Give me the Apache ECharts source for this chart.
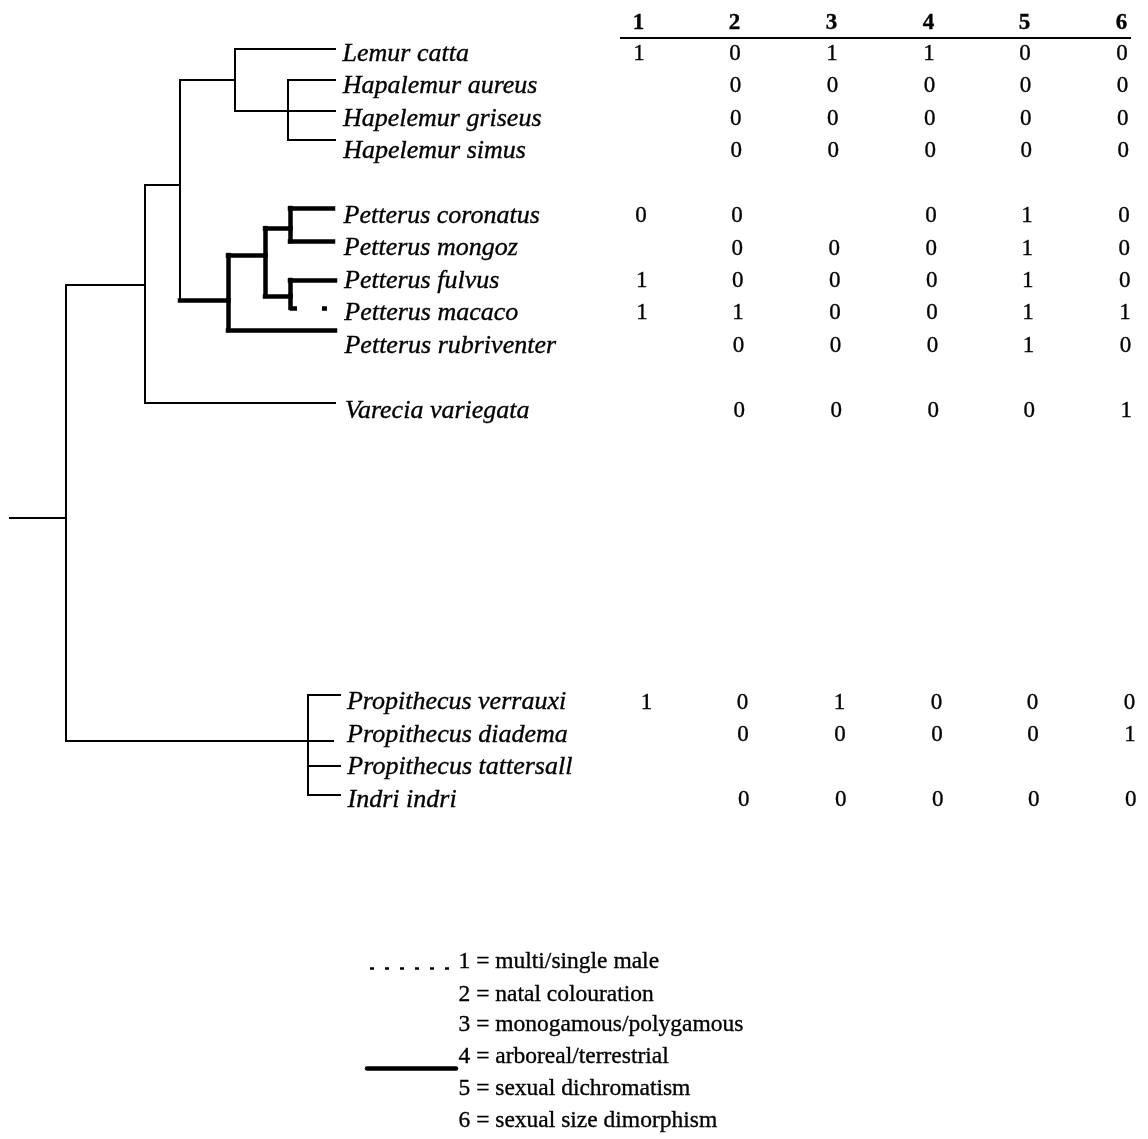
<!DOCTYPE html>
<html>
<head>
<meta charset="utf-8">
<script src="https://cdn.jsdelivr.net/npm/echarts@6/dist/echarts.min.js"></script>
<style>
html,body{margin:0;padding:0;background:#fff;}
#chart{width:1148px;height:1139px;}
</style>
</head>
<body>
<div id="chart"></div>
<script>
// ---------- DATA ----------
const taxa = ['Lemur catta','Hapalemur aureus','Hapelemur griseus','Hapelemur simus',
  'Petterus coronatus','Petterus mongoz','Petterus fulvus','Petterus macaco','Petterus rubriventer',
  'Varecia variegata','Propithecus verrauxi','Propithecus diadema','Propithecus tattersall','Indri indri'];
const taxonRows = [0,1,2,3,5,6,7,8,9,11,20,21,22,23];
const characters = ['1','2','3','4','5','6'];
const char1 = [1,null,null,null,0,null,1,1,null,null,1,null,null,null];
const char2 = [0,0,0,0,0,0,0,1,0,0,0,0,null,0];
const char3 = [1,0,0,0,null,0,0,0,0,0,1,0,null,0];
const char4 = [1,0,0,0,0,0,0,0,0,0,0,0,null,0];
const char5 = [0,0,0,0,1,1,1,1,1,0,0,0,null,0];
const char6 = [0,0,0,0,0,0,0,1,0,1,0,1,null,0];

// tree: node id, parent, depth (x), level (row units), trait mapped on the branch
const nodeIds     = ['root','A','B','C','Lemur catta','Hap','Hapalemur aureus','Hapelemur griseus','Hapelemur simus',
  'Pet','P1','P2','Petterus coronatus','Petterus mongoz','P3','Petterus fulvus','Petterus macaco','Petterus rubriventer',
  'Varecia variegata','D','Propithecus verrauxi','Propithecus diadema','Propithecus tattersall','Indri indri'];
const nodeParents = [null,'root','A','B','C','C','Hap','Hap','Hap',
  'B','Pet','P1','P2','P2','P1','P3','P3','Pet',
  'A','root','D','D','D','D'];
const nodeDepth   = [66,145,180,235,335,288,335,335,335,
  228,265,290,333,333,290,335,327,335,
  335,308,340,333,340,340];
const nodeLevel   = [14.31,7.12,4.04,0.80,-0.15,1.76,0.80,1.76,2.65,
  7.59,6.20,5.37,4.75,5.77,7.46,6.97,7.83,8.51,
  10.76,21.18,19.77,21.18,21.95,22.85];
const nodeTrait   = ['none','none','none','none','none','none','none','none','none',
  'char4','char4','char4','char4','char4','char4','char4','char1','char4',
  'none','none','none','none','none','none'];
const rootStemDepth = 10;

const legendLabels = ['1 = multi/single male','2 = natal colouration','3 = monogamous/polygamous',
  '4 = arboreal/terrestrial','5 = sexual dichromatism','6 = sexual size dimorphism'];
const legendRows = [28.0,29.0,29.95,30.92,31.9,32.9];

// ---------- LAYOUT ----------
const ROW0_PX = 54, ROW_PX = 32.43, H = 1139, W = 1148;
const yMin = -ROW0_PX/ROW_PX, yMax = (H-ROW0_PX)/ROW_PX;
const colX = [639,735,832,929,1025,1122];
const colSkew = 0.38;      // slight scan rotation
const labelX = 342, labelSkew = 0.22;
const serif = 'Liberation Serif, Times New Roman, serif';

const styleFor = {
  none:  {color:'#000', width:2, type:'solid', cap:'square'},
  char4: {color:'#000', width:4.5, type:'solid', cap:'square'},
  char1: {color:'#000', width:4.5, type:[7,25], cap:'butt'}
};

// tree segments
const idx = {}; nodeIds.forEach((id,i)=>idx[id]=i);
const segs = [];
nodeIds.forEach((id,i)=>{
  const p = nodeParents[i];
  if (p === null) {
    segs.push({coords:[[rootStemDepth,nodeLevel[i]],[nodeDepth[i],nodeLevel[i]]], lineStyle:styleFor[nodeTrait[i]]});
    return;
  }
  const j = idx[p];
  segs.push({coords:[[nodeDepth[j],nodeLevel[j]],[nodeDepth[j],nodeLevel[i]]], lineStyle:styleFor[nodeTrait[j]]});
  segs.push({coords:[[nodeDepth[j],nodeLevel[i]],[nodeDepth[i],nodeLevel[i]]], lineStyle:styleFor[nodeTrait[i]]});
});
// header underline and legend samples
segs.push({coords:[[620,-0.49],[1131,-0.49]], lineStyle:{color:'#000',width:2,type:'solid'}});
segs.push({coords:[[370,28.18],[456,28.18]], lineStyle:{color:'#000',width:2.5,type:[4,11],cap:'butt'}});
segs.push({coords:[[367,31.27],[456,31.27]], lineStyle:{color:'#000',width:4.5,type:'solid',cap:'round'}});

const labelData = taxa.map((t,i)=>[labelX + taxonRows[i]*labelSkew, taxonRows[i], t]);
const charCols = [char1,char2,char3,char4,char5,char6];
const cellData = [];
charCols.forEach((col,c)=>{
  col.forEach((v,i)=>{
    if (v !== null) cellData.push([colX[c] + taxonRows[i]*colSkew, taxonRows[i], String(v)]);
  });
});
const headerData = characters.map((c,k)=>[colX[k] - 0.38, -0.94, c]);
const legendData = legendLabels.map((t,k)=>[458, legendRows[k], t]);

const textSeries = (data, label) => ({
  type:'scatter', data, symbolSize:1, itemStyle:{color:'rgba(0,0,0,0)', opacity:1}, silent:true,
  label:Object.assign({show:true, color:'#000', opacity:1, fontFamily:serif,
    textBorderColor:'#000', textBorderWidth:0.35, formatter:p=>p.value[2]}, label)
});

const chart = echarts.init(document.getElementById('chart'), null, {renderer:'canvas'});
chart.setOption({
  animation:false,
  backgroundColor:'#fff',
  grid:{left:0,right:0,top:0,bottom:0},
  xAxis:{type:'value', min:0, max:W, show:false},
  yAxis:{type:'value', min:yMin, max:yMax, inverse:true, show:false},
  series:[
    {type:'lines', coordinateSystem:'cartesian2d', silent:true, data:segs, lineStyle:{color:'#000',opacity:1}},
    textSeries(labelData, {position:'right', distance:0, fontStyle:'italic', fontSize:26}),
    textSeries(cellData, {position:'inside', fontSize:23}),
    textSeries(headerData, {position:'inside', fontSize:23, fontWeight:'bold'}),
    textSeries(legendData, {position:'right', distance:0, fontSize:23.5})
  ]
});
</script>
</body>
</html>
